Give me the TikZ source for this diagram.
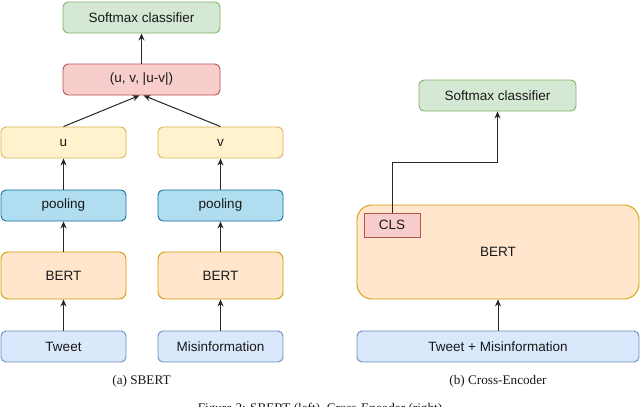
\documentclass[tikz,border=0pt]{standalone}
\usepackage{fontspec}
\setmainfont{Liberation Serif}
\newfontfamily\boxfont{Liberation Sans}
\usetikzlibrary{arrows.meta}
\definecolor{gfill}{HTML}{D5E8D4}\definecolor{gline}{HTML}{82B366}
\definecolor{rfill}{HTML}{F8CECC}\definecolor{rline}{HTML}{B85450}
\definecolor{yfill}{HTML}{FFF2CC}\definecolor{yline}{HTML}{D6B656}
\definecolor{bfill}{HTML}{B1DDF0}\definecolor{bline}{HTML}{10739E}
\definecolor{ofill}{HTML}{FFE6CC}\definecolor{oline}{HTML}{D79B00}
\definecolor{lfill}{HTML}{DAE8FC}\definecolor{lline}{HTML}{6C8EBF}
\tikzset{
  box/.style={draw, line width=0.9pt, rounded corners=5pt, inner sep=0pt,
    font=\boxfont\fontsize{13.5}{15}\selectfont, text=black!90},
  greenbox/.style={box, fill=gfill, draw=gline},
  redbox/.style={box, fill=rfill, draw=rline},
  yellowbox/.style={box, fill=yfill, draw=yline},
  bluebox/.style={box, fill=bfill, draw=bline},
  orangebox/.style={box, fill=ofill, draw=oline},
  inbox/.style={box, fill=lfill, draw=lline},
  conn/.style={draw=black!85, line width=1pt, -{Stealth[length=7pt,width=6pt]}},
  captext/.style={font=\fontsize{13.2}{15}\selectfont, text=black!90},
}
\begin{document}
\begin{tikzpicture}[x=1pt,y=-1pt]
\clip (0,0) rectangle (640,407);
\fill[white] (0,0) rectangle (640,407);
% left: SBERT
\node[greenbox, minimum width=157pt, minimum height=31pt] (lsoft) at (141.5,17.5) {Softmax classifier};
\node[redbox, minimum width=157pt, minimum height=31pt] (uvd) at (141.5,79.5) {(u, v, |u-v|)};
\node[yellowbox, minimum width=125pt, minimum height=31pt] (u) at (63.5,142.5) {u};
\node[yellowbox, minimum width=125pt, minimum height=31pt] (v) at (220.5,142.5) {v};
\node[bluebox, minimum width=125pt, minimum height=31pt] (pu) at (63.5,205.5) {pooling};
\node[bluebox, minimum width=125pt, minimum height=31pt] (pv) at (220.5,205.5) {pooling};
\node[orangebox, rounded corners=7pt, minimum width=125pt, minimum height=47pt] (bu) at (63.5,275.5) {BERT};
\node[orangebox, rounded corners=7pt, minimum width=125pt, minimum height=47pt] (bv) at (220.5,275.5) {BERT};
\node[inbox, minimum width=125pt, minimum height=31pt] (tw) at (63.5,346.5) {Tweet};
\node[inbox, minimum width=125pt, minimum height=31pt] (mi) at (220.5,346.5) {Misinformation};
\draw[conn] (uvd) -- (lsoft);
\draw[conn] (u.north) -- ([xshift=-2pt]uvd.south);
\draw[conn] (v.north) -- ([xshift=2pt]uvd.south);
\draw[conn] (pu) -- (u);
\draw[conn] (pv) -- (v);
\draw[conn] (bu) -- (pu);
\draw[conn] (bv) -- (pv);
\draw[conn] (tw) -- (bu);
\draw[conn] (mi) -- (bv);
\node[captext, anchor=base] (capa) at (141.5,384) {(a) SBERT};
% right: Cross-Encoder
\node[greenbox, minimum width=157pt, minimum height=31pt] (rsoft) at (497.5,95.5) {Softmax classifier};
\node[orangebox, rounded corners=15pt, minimum width=282pt, minimum height=94pt] (big) at (498,252) {BERT};
\node[redbox, rounded corners=0pt, minimum width=56pt, minimum height=24pt] (cls) at (392,225) {CLS};
\node[inbox, minimum width=282pt, minimum height=31pt] (tm) at (498,346.5) {Tweet + Misinformation};
\coordinate (bend) at (392,162);
\draw[conn] (cls.north) -- (bend) -| (rsoft.south);
\draw[conn] (tm) -- (big);
\node[captext, anchor=base] (capb) at (498,384) {(b) Cross-Encoder};
\node[captext, anchor=base] (fig) at (320,412) {Figure 2: SBERT (left), Cross-Encoder (right)};
\end{tikzpicture}
\end{document}
